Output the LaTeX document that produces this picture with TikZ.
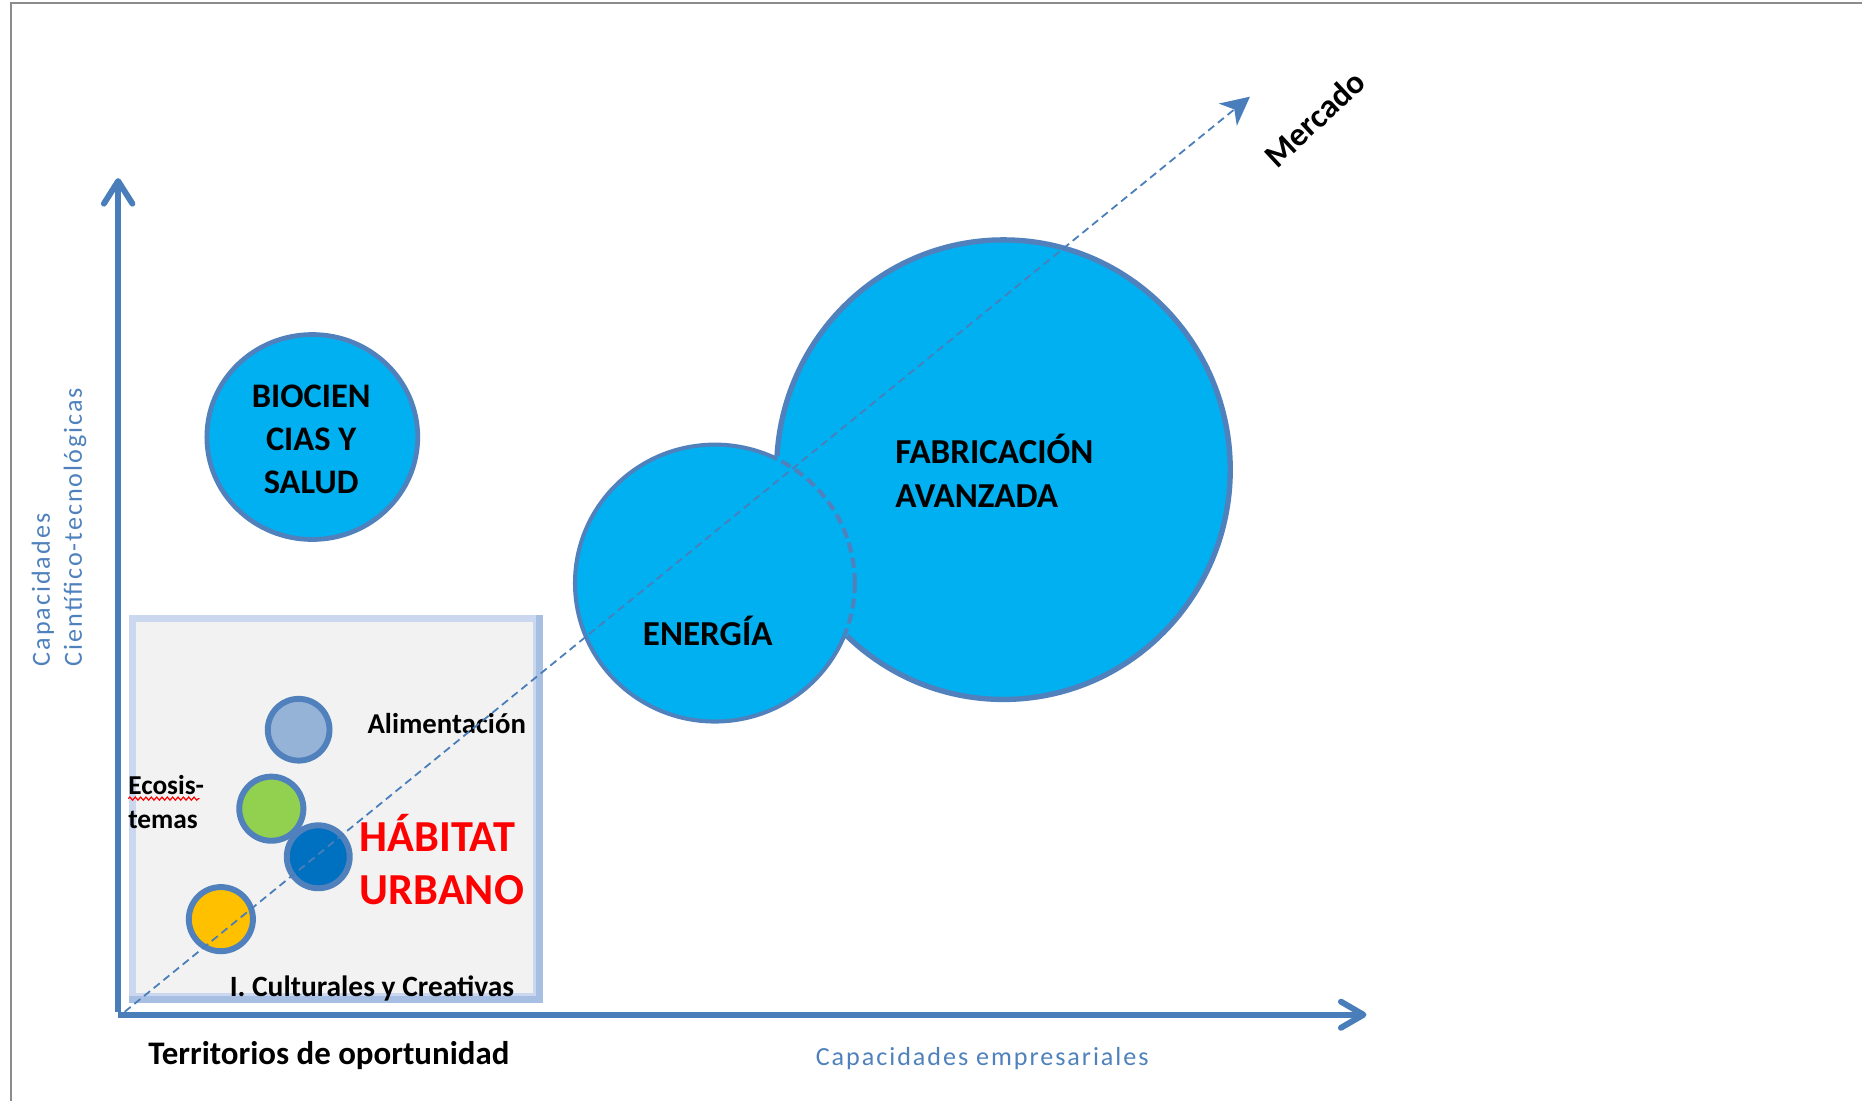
\documentclass[tikz,border=0pt]{standalone}
\usepackage{fontspec}
\setmainfont{Carlito}
\newfontfamily\spacedfont[LetterSpace=7.5]{Carlito}
\usetikzlibrary{arrows.meta,shapes.geometric,decorations.pathmorphing}
\definecolor{axisblue}{HTML}{4A7EBB}
\definecolor{bordblue}{HTML}{5081BD}
\definecolor{cyanfill}{HTML}{00B0F0}
\definecolor{ltblue}{HTML}{95B3D7}
\definecolor{grn}{HTML}{92D050}
\definecolor{dkblue}{HTML}{0070C0}
\definecolor{yel}{HTML}{FFC000}
\definecolor{boxfill}{HTML}{F2F2F2}
\definecolor{boxedge}{HTML}{CAD7EE}
\definecolor{boxedgedk}{HTML}{A8BFE4}
\definecolor{txtblue}{HTML}{4F81BD}
\definecolor{framegray}{HTML}{8C8C8C}
\tikzset{
  bigbubble/.style={ellipse, draw=bordblue, fill=cyanfill, line width=4, inner sep=0},
  smallbubble/.style={circle, draw=bordblue, line width=5, inner sep=0, minimum size=#1},
  axisline/.style={axisblue, line width=5},
  diagline/.style={axisblue, line width=1.5, dash pattern=on 6.5 off 4},
  lbl/.style={inner sep=0, outer sep=0},
}
\begin{document}
\begin{tikzpicture}[x=1pt,y=-1pt]
\useasboundingbox (0,0) rectangle (1568,927);
% frame
\coordinate (fTL) at (9,2.5);
\coordinate (fTR) at (1568,2.5);
\coordinate (fBL) at (9,927);
\draw[framegray, line width=2] (fBL) -- (fTL) -- (fTR);

% box
\node[draw=boxedge, fill=boxfill, line width=5.5, minimum width=340, minimum height=318, inner sep=0] (box) at (281.5,680) {};
\draw[boxedgedk, line width=5.5] (box.north east) -- (box.south east) -- (box.south west);

% small bubbles
\node[smallbubble=52, fill=ltblue] (alim) at (251.5,614.5) {};
\node[smallbubble=54, fill=grn] (eco) at (228.5,681) {};
\node[smallbubble=53, fill=dkblue] (hab) at (268,721.5) {};
\node[smallbubble=54, fill=yel] (cult) at (186,774) {};

% axes
\coordinate (yO) at (99.5,852);
\coordinate (ytop) at (99.5,150);
\coordinate (xO) at (99.7,854.5);
\coordinate (xend) at (1150.7,854.5);
\draw[axisline, -{Straight Barb[length=19,width=24,round]}] (yO) -- (ytop);
\draw[axisline, -{Straight Barb[length=19,width=22,round]}] (xO) -- (xend);

% big bubbles
\node[bigbubble, minimum width=177.6, minimum height=172.6] (bio) at (263,368) {};
\node[lbl, align=center, font=\bfseries\fontsize{29}{36}\selectfont] (biotext) at (262,370) {BIOCIEN\\CIAS Y\\SALUD};
\node[bigbubble, line width=4.5, minimum width=382, minimum height=387] (fab) at (845,395.5) {};
\node[bigbubble, line width=3.4, minimum width=235.6, minimum height=233.2] (ene) at (602,491) {};
\begin{scope}
  \clip (845,395.5) ellipse [x radius=191, y radius=193.5];
  \fill[cyanfill] (602,491) ellipse [x radius=120.5, y radius=119.3];
  \draw[bordblue, line width=3.4, dash pattern=on 8.5 off 4.5] (602,491) ellipse [x radius=117.8, y radius=116.6];
\end{scope}

% texts in bubbles (base anchor = last line)
\node[lbl, anchor=base west, align=left, font=\bfseries\fontsize{29.5}{37}\selectfont] (fabtext) at (754,427.5) {FABRICACIÓN\\AVANZADA};
\node[lbl, anchor=base, font=\bfseries\fontsize{29.5}{36}\selectfont] (enetext) at (596,543.5) {ENERGÍA};

% box texts
\node[lbl, anchor=base west, font=\bfseries\fontsize{24.2}{29}\selectfont] (alimtext) at (309.5,618) {Alimentación};
\node[lbl, anchor=base west, align=left, font=\bfseries\fontsize{23}{28.6}\selectfont] (ecotext) at (108,698) {Ecosis-\\temas};
\coordinate (wavyA) at (108,672.5);
\coordinate (wavyB) at (168,672.5);
\draw[red, line width=1, decorate, decoration={snake, amplitude=1.3, segment length=4.5}] (wavyA) -- (wavyB);
\node[lbl, anchor=base west, align=left, text=red, font=\bfseries\fontsize{37.3}{45}\selectfont] (habtext) at (303,762) {HÁBITAT\\URBANO};
\node[lbl, anchor=base west, font=\bfseries\fontsize{24.8}{29}\selectfont] (culttext) at (193.5,839) {I. Culturales y Creativas};

% diagonal
\coordinate (dstart) at (105,852);
\coordinate (dend) at (1052.6,81.4);
\draw[diagline, -{Stealth[length=24,width=24,inset=7]}] (dstart) -- (dend);
\node[lbl, rotate=43, font=\bfseries\fontsize{28}{34}\selectfont] (mercado) at (1107,100) {Mercado};

% axis labels
\node[lbl, anchor=base west, font=\bfseries\fontsize{27.7}{32}\selectfont] (terr) at (125,896) {Territorios de oportunidad};
\node[lbl, anchor=base west, text=txtblue, font=\spacedfont\fontsize{22}{27}\selectfont] (xlabel) at (687,897) {Capacidades empresariales};
\node[lbl, rotate=90, anchor=base west, align=left, text=txtblue, font=\spacedfont\fontsize{22}{27}\selectfont] (ylabel) at (69,561) {Capacidades\\Científico-tecnológicas};
\end{tikzpicture}
\end{document}
